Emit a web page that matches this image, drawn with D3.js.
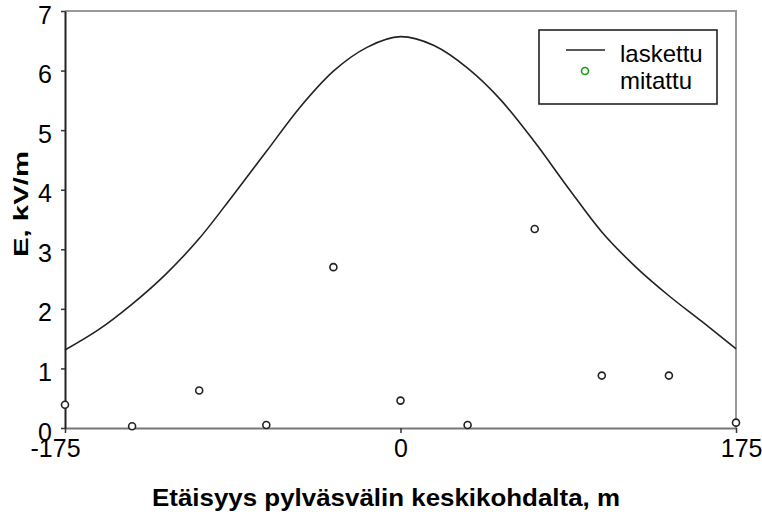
<!DOCTYPE html>
<html>
<head>
<meta charset="utf-8">
<script src="https://cdn.jsdelivr.net/npm/d3@7"></script>
<style>
  body { margin: 0; background: #fff; }
  text { font-family: "Liberation Sans", Arial, sans-serif; fill: #000; }
</style>
</head>
<body>
<div id="chart"></div>
<script>
var svgWidth = 762;
var svgHeight = 515;

// plot area edges
var margin = { top: 11, right: 26, bottom: 87, left: 65 };

// calculated field (laskettu)
var calcX = [-175, -157.5, -140, -122.5, -105, -87.5, -70, -52.5, -35, -17.5, 0,
             17.5, 35, 52.5, 70, 87.5, 105, 122.5, 140, 157.5, 175];
var calcE = [1.31, 1.65, 2.08, 2.58, 3.18, 3.90, 4.64, 5.38, 5.99, 6.39, 6.57,
             6.42, 6.04, 5.50, 4.80, 4.03, 3.29, 2.71, 2.22, 1.78, 1.33];

// measured field (mitattu)
var measX = [-175, -140, -105, -70, -35, 0, 35, 70, 105, 140, 175];
var measE = [0.39, 0.03, 0.63, 0.05, 2.70, 0.46, 0.05, 3.34, 0.88, 0.88, 0.09];

var xTicks = [-175, 0, 175];
var yTicks = [0, 1, 2, 3, 4, 5, 6, 7];

var chartWidth = svgWidth - margin.left - margin.right;
var chartHeight = svgHeight - margin.top - margin.bottom;

var svg = d3.select("#chart")
    .append("svg")
    .attr("width", svgWidth)
    .attr("height", svgHeight);

var chartGroup = svg.append("g")
    .attr("transform", `translate(${margin.left}, ${margin.top})`);

var xScale = d3.scaleLinear().domain([-175, 175]).range([0, chartWidth]);
var yScale = d3.scaleLinear().domain([0, 7]).range([chartHeight, 0]);

// plot frame (top and right in grey)
chartGroup.append("path")
    .attr("d", `M0,0H${chartWidth}V${chartHeight}`)
    .attr("fill", "none")
    .attr("stroke", "#999")
    .attr("stroke-width", 2);

// x axis
var xAxis = d3.axisBottom(xScale)
    .tickValues(xTicks)
    .tickFormat(d => String(d))
    .tickSize(5).tickSizeOuter(0).tickPadding(6);
var gx = chartGroup.append("g")
    .attr("transform", `translate(0, ${chartHeight})`)
    .call(xAxis);
gx.select(".domain").attr("stroke", "#777").attr("stroke-width", 2);
gx.selectAll(".tick line").attr("stroke", "#333").attr("stroke-width", 1.5);
gx.selectAll(".tick text")
    .attr("font-size", "25px")
    .attr("font-family", "Liberation Sans, Arial, sans-serif")
    .attr("fill", "#000")
    .attr("text-anchor", d => d === -175 ? "start" : d === 175 ? "end" : "middle")
    .attr("dx", d => d === -175 ? -35 : d === 175 ? 26 : 0);

// y axis
var yAxis = d3.axisLeft(yScale)
    .tickValues(yTicks)
    .tickFormat(d3.format("d"))
    .tickSize(4).tickSizeOuter(0).tickPadding(9);
var gy = chartGroup.append("g").call(yAxis);
gy.select(".domain").attr("stroke", "#222").attr("stroke-width", 2);
gy.selectAll(".tick line").attr("stroke", "#333").attr("stroke-width", 1.5);
gy.selectAll(".tick text")
    .attr("y", 4)
    .attr("font-size", "25px")
    .attr("font-family", "Liberation Sans, Arial, sans-serif")
    .attr("fill", "#000");

// calculated curve
var calcData = calcX.map((x, i) => ({ x: x, e: calcE[i] }));
var line = d3.line()
    .x(d => xScale(d.x))
    .y(d => yScale(d.e))
    .curve(d3.curveMonotoneX);

chartGroup.append("path")
    .datum(calcData)
    .attr("d", line)
    .attr("fill", "none")
    .attr("stroke", "#222")
    .attr("stroke-width", 1.6);

// measured points
var measData = measX.map((x, i) => ({ x: x, e: measE[i] }));
chartGroup.selectAll("circle.meas")
    .data(measData)
    .enter()
    .append("circle")
    .attr("class", "meas")
    .attr("cx", d => xScale(d.x))
    .attr("cy", d => yScale(d.e))
    .attr("r", 3.5)
    .attr("fill", "#fff")
    .attr("stroke", "#222")
    .attr("stroke-width", 1.6);

// axis titles
svg.append("text")
    .attr("x", 152)
    .attr("y", 506)
    .attr("font-size", "24px")
    .attr("font-weight", "bold")
    .attr("textLength", 468)
    .attr("lengthAdjust", "spacingAndGlyphs")
    .text("Etäisyys pylväsvälin keskikohdalta, m");

svg.append("text")
    .attr("transform", "translate(28, 204) rotate(-90)")
    .attr("text-anchor", "middle")
    .attr("font-size", "20px")
    .attr("font-weight", "bold")
    .attr("textLength", 106)
    .attr("lengthAdjust", "spacingAndGlyphs")
    .text("E, kV/m");

// legend
var legend = svg.append("g").attr("transform", "translate(539, 30)");
legend.append("rect")
    .attr("width", 178)
    .attr("height", 74)
    .attr("fill", "#fff")
    .attr("stroke", "#222")
    .attr("stroke-width", 1.6);
legend.append("line")
    .attr("x1", 27).attr("x2", 66)
    .attr("y1", 20).attr("y2", 20)
    .attr("stroke", "#222")
    .attr("stroke-width", 1.6);
legend.append("circle")
    .attr("cx", 46).attr("cy", 41)
    .attr("r", 3.5)
    .attr("fill", "#fff")
    .attr("stroke", "#1a9a1a")
    .attr("stroke-width", 1.6);
legend.append("text")
    .attr("x", 81).attr("y", 32)
    .attr("font-size", "24px")
    .text("laskettu");
legend.append("text")
    .attr("x", 81).attr("y", 59)
    .attr("font-size", "24px")
    .text("mitattu");
</script>
</body>
</html>
